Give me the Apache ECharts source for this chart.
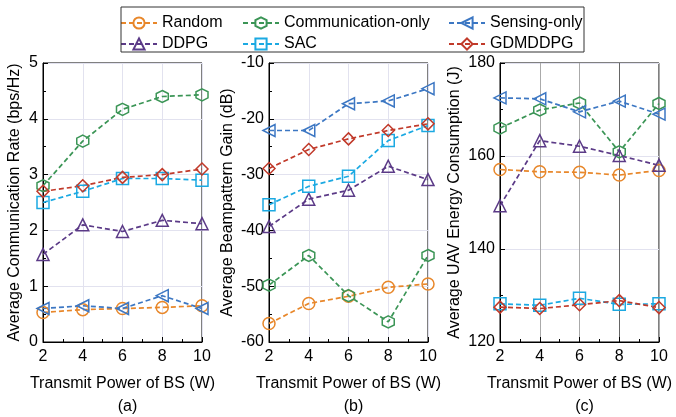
<!DOCTYPE html>
<html>
<head>
<meta charset="utf-8">
<script src="https://cdn.jsdelivr.net/npm/echarts@6/dist/echarts.min.js"></script>
<style>
  html, body { margin: 0; padding: 0; background: #fff; }
  #chart { width: 676px; height: 417px; }
</style>
</head>
<body>
<div id="chart"></div>
<script>
// transmit power of the BS (W)
var powers = [2, 4, 6, 8, 10];

// (a) average communication rate (bps/Hz)
var rateRandom = [0.53, 0.58, 0.6, 0.62, 0.65];
var rateComm = [2.8, 3.6, 4.17, 4.4, 4.43];
var rateSensing = [0.6, 0.65, 0.6, 0.83, 0.6];
var rateDDPG = [1.57, 2.1, 1.98, 2.18, 2.12];
var rateSAC = [2.5, 2.7, 2.93, 2.93, 2.9];
var rateGDM = [2.7, 2.8, 2.95, 3.0, 3.1];

// (b) average beampattern gain (dB)
var gainRandom = [-56.7, -53.1, -51.8, -50.2, -49.6];
var gainComm = [-49.8, -44.5, -51.7, -56.4, -44.5];
var gainSensing = [-22.1, -22.1, -17.3, -16.8, -14.6];
var gainDDPG = [-39.3, -34.4, -32.8, -28.5, -30.9];
var gainSAC = [-35.4, -32.1, -30.3, -23.9, -21.2];
var gainGDM = [-28.9, -25.5, -23.6, -22.1, -20.9];

// (c) average UAV energy consumption (J)
var energyRandom = [157.1, 156.6, 156.5, 155.9, 156.9];
var energyComm = [166.0, 169.9, 171.4, 160.9, 171.3];
var energySensing = [172.5, 172.3, 169.5, 171.8, 169.0];
var energyDDPG = [149.3, 163.3, 162.1, 160.1, 158.0];
var energySAC = [128.2, 127.9, 129.4, 128.1, 128.2];
var energyGDM = [127.5, 127.2, 128.0, 128.9, 127.4];

var methods = ['Random', 'Communication-only', 'Sensing-only', 'DDPG', 'SAC', 'GDMDDPG'];
var colors = ['#e8872a', '#3b9556', '#3c77c3', '#5b3a87', '#1ba9e2', '#c13a2a'];
var symbols = [
  'path://M1,0 A1,1 0 1,1 -1,0 A1,1 0 1,1 1,0 Z',
  'path://M0,-1 L0.866,-0.5 L0.866,0.5 L0,1 L-0.866,0.5 L-0.866,-0.5 Z',
  'path://M-1,0 L1,-1 L1,1 Z',
  'path://M0,-1 L1,1 L-1,1 Z',
  'path://M-1,-1 L1,-1 L1,1 L-1,1 Z',
  'path://M0,-1 L1,0 L0,1 L-1,0 Z'
];
var panels = [
  [rateRandom, rateComm, rateSensing, rateDDPG, rateSAC, rateGDM],
  [gainRandom, gainComm, gainSensing, gainDDPG, gainSAC, gainGDM],
  [energyRandom, energyComm, energySensing, energyDDPG, energySAC, energyGDM]
];

var font = 'Liberation Sans, Arial, sans-serif';
var lefts = [43, 269, 500];
var plotW = 159;

var grids = lefts.map(function (l) {
  return { left: l, width: plotW, top: 63, height: 279, show: true, borderColor: '#000', borderWidth: 1 };
});

function xAxis(i) {
  var vGrid = i === 2 ? ['#aaa', '#aaa', '#aaa', '#666', '#aaa'] : '#e2e2ef';
  return {
    type: 'value', gridIndex: i, min: 2, max: 10, interval: 2,
    name: 'Transmit Power of BS (W)', nameLocation: 'middle', nameGap: 34,
    nameTextStyle: { fontFamily: font, fontSize: 16, color: '#000' },
    axisLine: { onZero: false, lineStyle: { color: '#000' } },
    axisTick: { inside: true, length: 5, lineStyle: { color: '#000' } },
    minorTick: { show: true, splitNumber: 2, length: 3, lineStyle: { color: '#000' } },
    axisLabel: { fontFamily: font, fontSize: 16, color: '#000', margin: 7 },
    splitLine: { show: true, lineStyle: { color: vGrid, width: 1 } }
  };
}

var yNames = ['Average Communication Rate (bps/Hz)', 'Average Beampattern Gain (dB)', 'Average UAV Energy Consumption (J)'];
var yMins = [0, -60, 120];
var yMaxs = [5, -10, 180];
var yInts = [1, 10, 20];
var yGaps = [20, 33, 37];

function yAxis(i) {
  return {
    type: 'value', gridIndex: i, min: yMins[i], max: yMaxs[i], interval: yInts[i],
    name: yNames[i], nameLocation: 'middle', nameGap: yGaps[i],
    nameTextStyle: { fontFamily: font, fontSize: 16, color: '#000' },
    axisLine: { show: true, onZero: false, lineStyle: { color: '#000' } },
    axisTick: { show: true, inside: true, length: 5, lineStyle: { color: '#000' } },
    minorTick: { show: true, splitNumber: 2, length: 3, lineStyle: { color: '#000' } },
    axisLabel: { fontFamily: font, fontSize: 16, color: '#000', margin: 5 },
    splitLine: { show: true, lineStyle: { color: '#e2e2ef', width: 1 } }
  };
}

var series = [];
panels.forEach(function (sets, p) {
  sets.forEach(function (vals, k) {
    series.push({
      name: methods[k], type: 'line', xAxisIndex: p, yAxisIndex: p,
      data: powers.map(function (x, j) { return [x, vals[j]]; }),
      symbol: symbols[k], symbolSize: 12, showSymbol: true,
      lineStyle: { color: colors[k], width: 1.7, type: [5, 3] },
      itemStyle: { color: 'transparent', borderColor: colors[k], borderWidth: 1.5 },
      emphasis: { disabled: true },
      animation: false, z: 3
    });
  });
});

function legend(items, left) {
  return {
    data: items, left: left, top: 10, orient: 'vertical',
    itemWidth: 36, itemHeight: 14, itemGap: 5,
    textStyle: { fontFamily: font, fontSize: 16, color: '#000' },
    selectedMode: false
  };
}

var chart = echarts.init(document.getElementById('chart'), null, { renderer: 'canvas' });
chart.setOption({
  backgroundColor: '#fff',
  animation: false,
  grid: grids,
  xAxis: [0, 1, 2].map(xAxis),
  yAxis: [0, 1, 2].map(yAxis),
  legend: [
    legend(['Random', 'DDPG'], 115),
    legend(['Communication-only', 'SAC'], 237),
    legend(['Sensing-only', 'GDMDDPG'], 443)
  ],
  title: ['(a)', '(b)', '(c)'].map(function (t, i) {
    return {
      text: t, left: lefts[i] + plotW / 2, top: 394, textAlign: 'center',
      textStyle: { fontFamily: font, fontSize: 16, fontWeight: 'normal', color: '#000' }
    };
  }),
  graphic: [{
    type: 'rect', shape: { x: 121, y: 7, width: 463, height: 45 },
    style: { fill: 'none', stroke: '#333', lineWidth: 1 }, z: 10
  }],
  series: series
});
</script>
</body>
</html>
